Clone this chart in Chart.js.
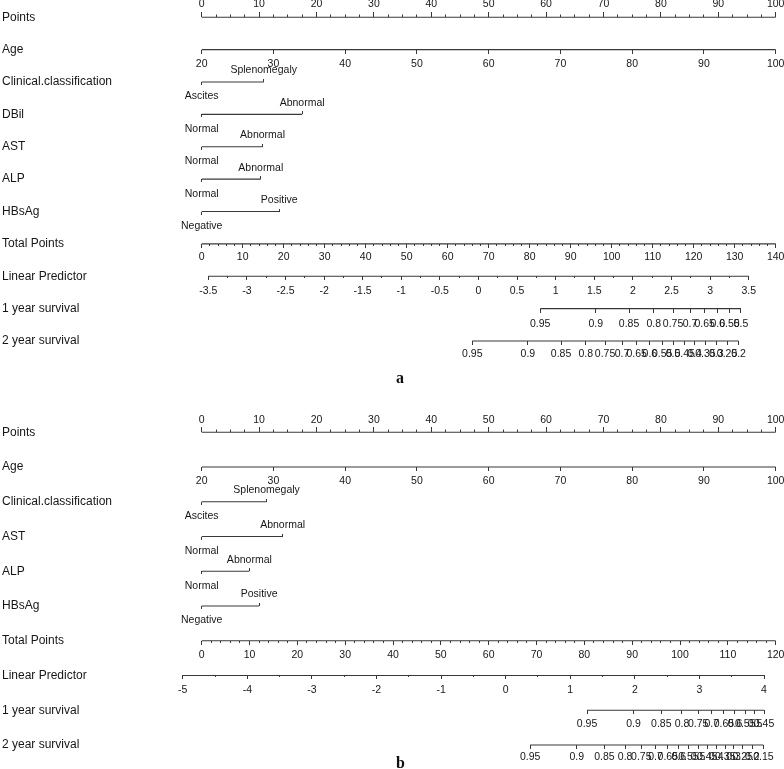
<!DOCTYPE html>
<html><head><meta charset="utf-8">
<script src="https://cdn.jsdelivr.net/npm/chart.js@4.4.1/dist/chart.umd.min.js"></script>
<style>
html,body{margin:0;padding:0;background:#fff;width:784px;height:769px;overflow:hidden}
#wrap{position:relative;width:784px;height:769px}
canvas{position:absolute;left:0}
#ca{top:0}
#cb{top:390px}
.cap{position:absolute;font:bold 16px "Liberation Serif","Times New Roman",serif;line-height:16px;color:#111}
</style></head><body>
<div id="wrap">
<canvas id="ca" width="784" height="390"></canvas>
<canvas id="cb" width="784" height="379"></canvas>
<div class="cap" style="left:396px;top:370px">a</div>
<div class="cap" style="left:396px;top:755px">b</div>
</div>
<script>
// ================= DATA : panel a =================
const aRowNames = ['Points','Age','Clinical.classification','DBil','AST','ALP','HBsAg','Total Points','Linear Predictor','1 year survival','2 year survival'];
const aPointsTicks = [0,10,20,30,40,50,60,70,80,90,100];
const aAgeTicks = [20,30,40,50,60,70,80,90,100];
const aAgeAtPointsEnds = [20,100];
const aClinicalLevels = ['Ascites','Splenomegaly'];
const aClinicalPoints = [0,10.8];
const aDBilLevels = ['Normal','Abnormal'];
const aDBilPoints = [0,17.5];
const aASTLevels = ['Normal','Abnormal'];
const aASTPoints = [0,10.6];
const aALPLevels = ['Normal','Abnormal'];
const aALPPoints = [0,10.3];
const aHBsAgLevels = ['Negative','Positive'];
const aHBsAgPoints = [0,13.5];
const aTotalTicks = [0,10,20,30,40,50,60,70,80,90,100,110,120,130,140];
const aLpTicks = [-3.5,-3,-2.5,-2,-1.5,-1,-0.5,0,0.5,1,1.5,2,2.5,3,3.5];
const aLpAtTotalEnds = [-3.585,3.850];
const aSurv1Labels = [0.95,0.9,0.85,0.8,0.75,0.7,0.65,0.6,0.55,0.5];
const aSurv1Lp = [0.80,1.52,1.95,2.27,2.52,2.74,2.93,3.10,3.25,3.40];
const aSurv2Labels = [0.95,0.9,0.85,0.8,0.75,0.7,0.65,0.6,0.55,0.5,0.45,0.4,0.35,0.3,0.25,0.2];
const aSurv2Lp = [-0.08,0.64,1.07,1.39,1.64,1.86,2.05,2.22,2.38,2.52,2.67,2.80,2.94,3.08,3.22,3.37];

// ================= DATA : panel b =================
const bRowNames = ['Points','Age','Clinical.classification','AST','ALP','HBsAg','Total Points','Linear Predictor','1 year survival','2 year survival'];
const bPointsTicks = [0,10,20,30,40,50,60,70,80,90,100];
const bAgeTicks = [20,30,40,50,60,70,80,90,100];
const bAgeAtPointsEnds = [20,100];
const bClinicalLevels = ['Ascites','Splenomegaly'];
const bClinicalPoints = [0,11.3];
const bASTLevels = ['Normal','Abnormal'];
const bASTPoints = [0,14.1];
const bALPLevels = ['Normal','Abnormal'];
const bALPPoints = [0,8.3];
const bHBsAgLevels = ['Negative','Positive'];
const bHBsAgPoints = [0,10.0];
const bTotalTicks = [0,10,20,30,40,50,60,70,80,90,100,110,120];
const bLpTicks = [-5,-4,-3,-2,-1,0,1,2,3,4];
const bLpAtTotalEnds = [-4.706,4.181];
const bSurv1Labels = [0.95,0.9,0.85,0.8,0.75,0.7,0.65,0.6,0.55,0.5,0.45];
const bSurv1Lp = [1.26,1.98,2.41,2.73,2.98,3.19,3.38,3.55,3.71,3.86,4.00];
const bSurv2Labels = [0.95,0.9,0.85,0.8,0.75,0.7,0.65,0.6,0.55,0.5,0.45,0.4,0.35,0.3,0.25,0.2,0.15];
const bSurv2Lp = [0.38,1.10,1.53,1.85,2.10,2.32,2.51,2.68,2.83,2.98,3.12,3.26,3.40,3.53,3.67,3.82,3.99];

// ================= STYLE / LAYOUT =================
const LINE = '#383838', TEXT = '#161616';
const P0PX = 201.7, P100PX = 775.7, PMIN = -4, PMAX = 101, CANVAS_W = 784;

function fontAvailable(name){
  const c = document.createElement('canvas').getContext('2d');
  const s = 'Clinical.classification 0.95 Splenomegaly';
  c.font = '40px monospace'; const a = c.measureText(s).width;
  c.font = '40px "' + name + '", monospace'; const b = c.measureText(s).width;
  c.font = '40px serif'; const a2 = c.measureText(s).width;
  c.font = '40px "' + name + '", serif'; const b2 = c.measureText(s).width;
  return a !== b || a2 !== b2;
}
let FAM, ROW, TICK;
if (fontAvailable('Liberation Sans Narrow')) { FAM = '"Liberation Sans Narrow", sans-serif'; ROW = 13; TICK = 11.5; }
else { FAM = '"Liberation Sans", Arial, sans-serif'; ROW = 12; TICK = 10.5; }

function linMap(v0, v1){ return p => v0 + (v1 - v0) * p / 100; }

function axisCfg(row, m, ticks, o){
  const pad = o.up ? (-o.gap + o.tl - 0.6 * TICK) : (o.gap - o.tl - 0.6 * TICK);
  return {
    type: 'linear', axis: 'x', position: {y: row}, min: m(PMIN), max: m(PMAX), bounds: 'data',
    afterBuildTicks: s => { s.ticks = ticks.map(t => ({value: t.value, label: t.label, minor: !!t.minor})); },
    afterFit: s => { s.paddingLeft = 0; s.paddingRight = 0; },
    border: {display: false},
    grid: {display: true, drawOnChartArea: false, drawTicks: true, color: 'rgba(0,0,0,0)',
      tickLength: o.up ? -o.tl : o.tl, tickColor: LINE, tickWidth: 1,
      tickBorderDash: c => (c.tick && c.tick.minor) ? [o.minor || 2, 200] : []},
    ticks: {autoSkip: false, maxRotation: 0, minRotation: 0, color: TEXT,
      font: {family: FAM, size: TICK}, padding: pad,
      callback: (v, k) => ticks[k] ? ticks[k].label : ''}
  };
}

function lineDs(axisId, row, a, b){
  return {type: 'line', xAxisID: axisId, yAxisID: 'y', data: [{x: a, y: row}, {x: b, y: row}],
    borderColor: LINE, borderWidth: 1.1, pointRadius: 0, pointHoverRadius: 0, fill: false, tension: 0, clip: false};
}

function makeChart(id, rows, geo){
  const ptPx = (P100PX - P0PX) / 100;
  const areaLeft = P0PX + PMIN * ptPx;
  const areaRight = P0PX + PMAX * ptPx;
  const yMin = -geo.firstRowPx / geo.rowPx;
  const yMax = yMin + geo.height / geo.rowPx;
  const scales = {
    y: {type: 'linear', position: 'left', reverse: true, min: yMin, max: yMax, bounds: 'data',
      afterBuildTicks: s => { s.ticks = rows.map((r, i) => ({value: i})); },
      afterFit: s => { s.width = areaLeft - 2; s.paddingTop = 0; s.paddingBottom = 0; },
      grid: {display: false}, border: {display: false},
      ticks: {autoSkip: false, crossAlign: 'far', color: TEXT, padding: 0,
        font: {family: FAM, size: ROW}, callback: v => rows[v] ? rows[v].name : ''}}
  };
  const datasets = [];
  rows.forEach((r, i) => {
    if (r.kind === 'cat') {
      const m = linMap(0, 100);
      const lo = [{value: r.points[0], label: r.levels[0]}];
      const hi = r.levels.slice(1).map((l, k) => ({value: r.points[k + 1], label: l}));
      scales['x' + i + 'lo'] = axisCfg(i, m, lo, {tl: 3, gap: 14.5, up: false});
      scales['x' + i + 'hi'] = axisCfg(i, m, hi, {tl: 3, gap: 11.5, up: true});
      datasets.push(lineDs('x' + i + 'lo', i, r.points[0], r.points[r.points.length - 1]));
    } else {
      const m = linMap(r.ends[0], r.ends[1]);
      const vals = r.values;
      const ticks = vals.map((v, k) => ({value: v, label: r.labels ? String(r.labels[k]) : String(v)}));
      if (r.minorStep) {
        const first = vals[0], last = vals[vals.length - 1];
        const n = Math.round((last - first) / r.minorStep);
        for (let k = 0; k <= n; k++) {
          const v = first + k * r.minorStep;
          if (!vals.some(t => Math.abs(t - v) < 1e-9)) ticks.push({value: v, label: '', minor: true});
        }
        ticks.sort((p, q) => p.value - q.value);
      }
      scales['x' + i] = axisCfg(i, m, ticks, {tl: r.tl || 4, gap: r.gap || 14, up: !!r.up, minor: r.minorLen});
      datasets.push(lineDs('x' + i, i, Math.min(...vals), Math.max(...vals)));
    }
  });
  return new Chart(document.getElementById(id), {
    type: 'line',
    data: {datasets},
    options: {
      responsive: false, animation: false, devicePixelRatio: 1, events: [],
      layout: {padding: {left: 2, right: CANVAS_W - areaRight, top: 0, bottom: 0}},
      plugins: {legend: {display: false}, tooltip: {enabled: false}, title: {display: false}},
      scales
    }
  });
}

const aRows = [
  {name: aRowNames[0], values: aPointsTicks, ends: [0, 100], minorStep: 2.5, tl: 5, minorLen: 2.5, up: true, gap: 13},
  {name: aRowNames[1], values: aAgeTicks, ends: aAgeAtPointsEnds},
  {name: aRowNames[2], kind: 'cat', levels: aClinicalLevels, points: aClinicalPoints},
  {name: aRowNames[3], kind: 'cat', levels: aDBilLevels, points: aDBilPoints},
  {name: aRowNames[4], kind: 'cat', levels: aASTLevels, points: aASTPoints},
  {name: aRowNames[5], kind: 'cat', levels: aALPLevels, points: aALPPoints},
  {name: aRowNames[6], kind: 'cat', levels: aHBsAgLevels, points: aHBsAgPoints},
  {name: aRowNames[7], values: aTotalTicks, ends: [0, 140], minorStep: 2, minorLen: 2, gap: 13},
  {name: aRowNames[8], values: aLpTicks, ends: aLpAtTotalEnds, minorStep: 0.25, minorLen: 2, gap: 15},
  {name: aRowNames[9], values: aSurv1Lp, labels: aSurv1Labels, ends: aLpAtTotalEnds, gap: 15},
  {name: aRowNames[10], values: aSurv2Lp, labels: aSurv2Labels, ends: aLpAtTotalEnds, gap: 13}
];
const bRows = [
  {name: bRowNames[0], values: bPointsTicks, ends: [0, 100], minorStep: 2.5, tl: 5, minorLen: 2.5, up: true, gap: 12},
  {name: bRowNames[1], values: bAgeTicks, ends: bAgeAtPointsEnds},
  {name: bRowNames[2], kind: 'cat', levels: bClinicalLevels, points: bClinicalPoints},
  {name: bRowNames[3], kind: 'cat', levels: bASTLevels, points: bASTPoints},
  {name: bRowNames[4], kind: 'cat', levels: bALPLevels, points: bALPPoints},
  {name: bRowNames[5], kind: 'cat', levels: bHBsAgLevels, points: bHBsAgPoints},
  {name: bRowNames[6], values: bTotalTicks, ends: [0, 120], minorStep: 2, minorLen: 2, gap: 14},
  {name: bRowNames[7], values: bLpTicks, ends: bLpAtTotalEnds, minorStep: 0.5, minorLen: 2, gap: 15},
  {name: bRowNames[8], values: bSurv1Lp, labels: bSurv1Labels, ends: bLpAtTotalEnds, gap: 13.5},
  {name: bRowNames[9], values: bSurv2Lp, labels: bSurv2Labels, ends: bLpAtTotalEnds, gap: 12}
];

makeChart('ca', aRows, {firstRowPx: 17.3, rowPx: 32.37, height: 390});
makeChart('cb', bRows, {firstRowPx: 42.3, rowPx: 34.74, height: 379});
</script>
</body></html>
